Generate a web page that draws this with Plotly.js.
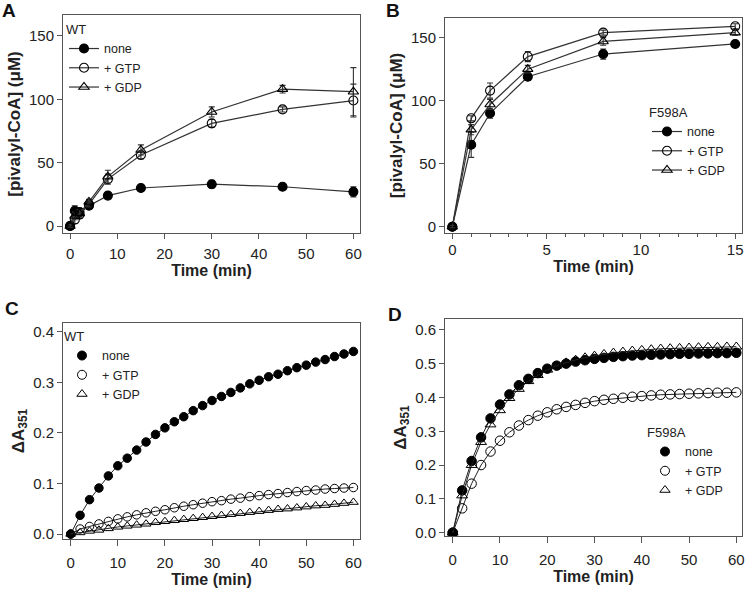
<!DOCTYPE html>
<html>
<head>
<meta charset="utf-8">
<script src="https://cdn.plot.ly/plotly-3.0.1.min.js"></script>
<style>html,body{margin:0;padding:0;background:#fff;}#chart{width:745px;height:589px;}</style>
</head>
<body>
<div id="chart"></div>
<script>
// ---- Data ----
const seriesNames = ['none', '+ GTP', '+ GDP'];

// Panel A (WT, pivalyl-CoA)
const A_t = [0, 1, 2, 4, 8, 15, 30, 45, 60];
const A_none = [0, 12, 11, 16, 24, 30, 33, 31, 27];
const A_none_err = [1, 4, 3, 2, 2, 2, 3, 2, 4];
const A_gtp = [0, 5, 9, 17, 37, 56, 81, 92, 99];
const A_gtp_err = [1, 3, 3, 2, 4, 3, 3, 2, 13];
const A_gdp = [0, 8, 10, 19, 39, 60, 90, 108, 106];
const A_gdp_err = [1, 3, 3, 2, 5, 4, 4, 3, 19];

// Panel B (F598A, pivalyl-CoA)
const B_t = [0, 1, 2, 4, 8, 15];
const B_none = [0, 65, 90, 119, 137, 145];
const B_none_err = [1, 10, 4, 3, 4, 2];
const B_gtp = [0, 86, 108, 135, 154, 159];
const B_gtp_err = [1, 2, 6, 4, 2, 2];
const B_gdp = [0, 77, 97, 125, 147, 154];
const B_gdp_err = [1, 4, 4, 3, 3, 2];

// Panels C & D time points
const CD_t = [0, 2, 4, 6, 8, 10, 12, 14, 16, 18, 20, 22, 24, 26, 28, 30, 32, 34, 36, 38, 40, 42, 44, 46, 48, 50, 52, 54, 56, 58, 60];

// Panel C (WT, ΔA351)
const C_none = [0, 0.037, 0.068, 0.091, 0.115, 0.135, 0.150, 0.166, 0.182, 0.197, 0.210, 0.222, 0.232, 0.244, 0.254, 0.264, 0.272, 0.280, 0.289, 0.297, 0.304, 0.311, 0.316, 0.323, 0.329, 0.334, 0.340, 0.345, 0.351, 0.356, 0.361];
const C_gtp = [0, 0.010, 0.015, 0.020, 0.025, 0.030, 0.034, 0.038, 0.042, 0.045, 0.048, 0.052, 0.055, 0.058, 0.061, 0.064, 0.066, 0.069, 0.071, 0.074, 0.076, 0.078, 0.080, 0.082, 0.084, 0.086, 0.087, 0.089, 0.090, 0.091, 0.092];
const C_gdp = [0, 0.003, 0.006, 0.008, 0.011, 0.014, 0.016, 0.018, 0.020, 0.023, 0.025, 0.027, 0.029, 0.031, 0.033, 0.035, 0.037, 0.039, 0.041, 0.043, 0.045, 0.047, 0.049, 0.050, 0.052, 0.054, 0.056, 0.057, 0.059, 0.061, 0.063];

// Panel D (F598A, ΔA351)
const D_none = [0, 0.125, 0.212, 0.282, 0.338, 0.379, 0.409, 0.436, 0.455, 0.472, 0.485, 0.494, 0.500, 0.506, 0.510, 0.514, 0.517, 0.520, 0.522, 0.524, 0.525, 0.526, 0.527, 0.528, 0.529, 0.529, 0.530, 0.530, 0.531, 0.531, 0.532];
const D_gtp = [0, 0.072, 0.145, 0.200, 0.240, 0.272, 0.297, 0.317, 0.333, 0.346, 0.356, 0.365, 0.372, 0.378, 0.384, 0.389, 0.393, 0.396, 0.399, 0.402, 0.404, 0.406, 0.408, 0.409, 0.410, 0.411, 0.412, 0.413, 0.414, 0.414, 0.415];
const D_gdp = [0, 0.110, 0.200, 0.268, 0.320, 0.362, 0.398, 0.425, 0.448, 0.466, 0.482, 0.494, 0.503, 0.511, 0.518, 0.523, 0.528, 0.532, 0.535, 0.538, 0.540, 0.542, 0.544, 0.545, 0.546, 0.547, 0.548, 0.549, 0.549, 0.550, 0.550];

// ---- Styling ----
const FONT = '"Liberation Sans", Arial, Helvetica, sans-serif';
const LINE = '#333';
const symbols = ['circle', 'circle-open', 'triangle-up-open'];

function errTrace(x, y, err, k, xa, ya, leg, msize) {
  return {
    x: x, y: y, name: seriesNames[k], type: 'scatter', mode: 'lines+markers',
    xaxis: xa, yaxis: ya, legend: leg,
    line: {color: LINE, width: 1.2},
    marker: {symbol: symbols[k], size: msize, color: '#000', line: {color: '#000', width: 1.1}},
    error_y: {type: 'data', array: err, visible: true, color: '#333', thickness: 1.1, width: 3}
  };
}
function kinTrace(x, y, k, xa, ya, msize) {
  return {
    x: x, y: y, name: seriesNames[k], type: 'scatter', mode: 'lines+markers',
    xaxis: xa, yaxis: ya, showlegend: false,
    line: {color: '#222', width: 1},
    marker: {symbol: symbols[k], size: msize, color: '#000', line: {color: '#000', width: 1}}
  };
}
// marker-only legend entries (no data drawn)
function legTrace(k, xa, ya, leg, msize) {
  return {
    x: [null], y: [null], name: seriesNames[k], type: 'scatter', mode: 'markers',
    xaxis: xa, yaxis: ya, legend: leg, showlegend: true,
    marker: {symbol: symbols[k], size: msize, color: '#000', line: {color: '#000', width: 1}}
  };
}

const traces = [
  errTrace(A_t, A_none, A_none_err, 0, 'x', 'y', 'legend', 9),
  errTrace(A_t, A_gtp, A_gtp_err, 1, 'x', 'y', 'legend', 9),
  errTrace(A_t, A_gdp, A_gdp_err, 2, 'x', 'y', 'legend', 9),
  errTrace(B_t, B_none, B_none_err, 0, 'x2', 'y2', 'legend2', 9),
  errTrace(B_t, B_gtp, B_gtp_err, 1, 'x2', 'y2', 'legend2', 9),
  errTrace(B_t, B_gdp, B_gdp_err, 2, 'x2', 'y2', 'legend2', 9),
  kinTrace(CD_t, C_none, 0, 'x3', 'y3', 8.5),
  kinTrace(CD_t, C_gtp, 1, 'x3', 'y3', 8.5),
  kinTrace(CD_t, C_gdp, 2, 'x3', 'y3', 8.5),
  kinTrace(CD_t, D_none, 0, 'x4', 'y4', 9.5),
  kinTrace(CD_t, D_gtp, 1, 'x4', 'y4', 9.5),
  kinTrace(CD_t, D_gdp, 2, 'x4', 'y4', 9.5),
  legTrace(0, 'x3', 'y3', 'legend3', 9),
  legTrace(1, 'x3', 'y3', 'legend3', 9),
  legTrace(2, 'x3', 'y3', 'legend3', 9),
  legTrace(0, 'x4', 'y4', 'legend4', 9),
  legTrace(1, 'x4', 'y4', 'legend4', 9),
  legTrace(2, 'x4', 'y4', 'legend4', 9)
];

const W = 745, H = 589;
function dx(a, b) { return [a / W, b / W]; }
function dy(top, bottom) { return [1 - bottom / H, 1 - top / H]; }

function axBase(extra) {
  return Object.assign({
    showline: true, mirror: true, linecolor: '#555', linewidth: 1,
    ticks: 'outside', ticklen: 5, tickwidth: 1, tickcolor: '#555',
    showgrid: false, zeroline: false,
    tickfont: {family: FONT, size: 15, color: '#222'},
    automargin: false
  }, extra);
}
const xTitle = {text: 'Time (min)', font: {family: FONT, size: 16, color: '#222', weight: 'bold'}, standoff: 2};
const yTitleP = {text: '[pivalyl-CoA] (μM)', font: {family: FONT, size: 17, color: '#222', weight: 'bold'}, standoff: 4};
const yTitleA = {text: 'ΔA<sub>351</sub>', font: {family: FONT, size: 17, color: '#222', weight: 'bold'}, standoff: 4};

function legendCfg(x, y, title) {
  return {
    x: x, y: y, xanchor: 'left', yanchor: 'top',
    bgcolor: 'rgba(0,0,0,0)', borderwidth: 0,
    font: {family: FONT, size: 12.5, color: '#222'},
    title: {text: title, font: {family: FONT, size: 13, color: '#222'}},
    tracegroupgap: 0, itemwidth: 30
  };
}

const layout = {
  width: W, height: H,
  margin: {l: 0, r: 0, t: 0, b: 0},
  paper_bgcolor: '#fff', plot_bgcolor: '#fff',
  font: {family: FONT, color: '#222'},
  showlegend: true,
  xaxis: axBase({domain: dx(63, 360), range: [-1.5, 61.4], dtick: 10, tick0: 0, title: xTitle, anchor: 'y', ticklabelstandoff: 2}),
  yaxis: axBase({domain: dy(15, 233), range: [-5.5, 166.5], dtick: 50, tick0: 0, title: yTitleP, anchor: 'x'}),
  xaxis2: axBase({domain: dx(445, 742), range: [-0.39, 15.36], dtick: 5, tick0: 0, title: xTitle, anchor: 'y2', ticklabelstandoff: -2,
    minor: {dtick: 1, ticks: 'outside', ticklen: 3, tickcolor: '#555'}}),
  yaxis2: axBase({domain: dy(18, 233), range: [-5, 165.6], dtick: 50, tick0: 0, title: yTitleP, anchor: 'x2'}),
  xaxis3: axBase({domain: dx(63, 360), range: [-1.63, 61.4], dtick: 10, tick0: 0, title: xTitle, anchor: 'y3', ticklen: 6, ticklabelstandoff: 4}),
  yaxis3: axBase({domain: dy(323, 539), range: [-0.0098, 0.4173], dtick: 0.1, tick0: 0, tickformat: '.1f', title: yTitleA, anchor: 'x3'}),
  xaxis4: axBase({domain: dx(445, 742), range: [-1.63, 61.2], dtick: 10, tick0: 0, title: xTitle, anchor: 'y4', ticklen: 6, ticklabelstandoff: 4}),
  yaxis4: axBase({domain: dy(319, 536), range: [-0.0098, 0.632], dtick: 0.1, tick0: 0, tickformat: '.1f', title: yTitleA, anchor: 'x4'}),
  legend: legendCfg(64 / W, 1 - 17 / H, 'WT'),
  legend2: legendCfg(647 / W, 1 - 100 / H, 'F598A'),
  legend3: legendCfg(62 / W, 1 - 324 / H, 'WT'),
  legend4: legendCfg(645 / W, 1 - 420 / H, 'F598A'),
  annotations: [
    {text: '<b>A</b>', x: 0, y: 1, xref: 'paper', yref: 'paper', xanchor: 'left', yanchor: 'top', showarrow: false, font: {family: FONT, size: 19, color: '#111'}, yshift: 2},
    {text: '<b>B</b>', x: 384 / W, y: 1, xref: 'paper', yref: 'paper', xanchor: 'left', yanchor: 'top', showarrow: false, font: {family: FONT, size: 19, color: '#111'}, yshift: 2},
    {text: '<b>C</b>', x: 3 / W, y: 1 - 296 / H, xref: 'paper', yref: 'paper', xanchor: 'left', yanchor: 'top', showarrow: false, font: {family: FONT, size: 19, color: '#111'}},
    {text: '<b>D</b>', x: 386 / W, y: 1 - 302 / H, xref: 'paper', yref: 'paper', xanchor: 'left', yanchor: 'top', showarrow: false, font: {family: FONT, size: 19, color: '#111'}}
  ]
};

Plotly.newPlot('chart', traces, layout, {displayModeBar: false, staticPlot: true});
</script>
</body>
</html>
